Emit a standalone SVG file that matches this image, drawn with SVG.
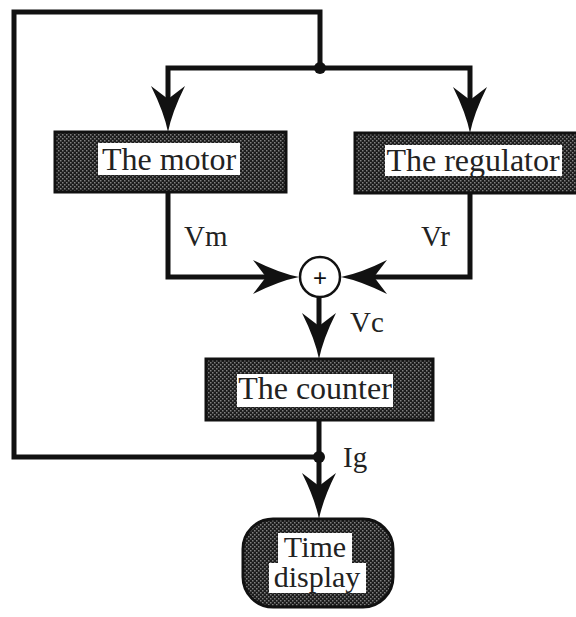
<svg xmlns="http://www.w3.org/2000/svg" width="576" height="617" viewBox="0 0 576 617">
<style>
.wire{fill:none;stroke:#111;stroke-width:5;stroke-linejoin:miter}
.box{fill:url(#dots);stroke:#111;stroke-width:3}
.bg{fill:#fff}
.lbl{font-family:"Liberation Serif","Times New Roman",serif;font-size:32px;fill:#222;text-anchor:middle}
.sig{font-family:"Liberation Serif","Times New Roman",serif;font-size:29px;fill:#222}
</style>
<defs>
<pattern id="dots" width="4" height="4" patternUnits="userSpaceOnUse">
<rect width="4" height="4" fill="#1c1c1c"/>
<rect x="0" y="0" width="1.5" height="1.5" fill="#808080"/>
<rect x="2" y="2" width="1.5" height="1.5" fill="#808080"/>
</pattern>
<marker id="arr" markerUnits="userSpaceOnUse" orient="auto" viewBox="-50 -19 52 38" markerWidth="52" markerHeight="38" refX="-20" refY="0">
<path d="M0,0 Q-20,-4 -46,-17 L-33,0 L-46,17 Q-20,4 0,0 Z" fill="#111"/>
</marker>
</defs>
<g id="connectors">
<path class="wire" d="M319,457 H14 V12 H320 V68"/>
<path class="wire" d="M320,68 H168 V112" marker-end="url(#arr)"/>
<path class="wire" d="M320,68 H470 V113" marker-end="url(#arr)"/>
<path class="wire" d="M168,192 V277 H279" marker-end="url(#arr)"/>
<path class="wire" d="M470,193 V277 H361" marker-end="url(#arr)"/>
<path class="wire" d="M319,297 V339" marker-end="url(#arr)"/>
<path class="wire" d="M319,420 V499" marker-end="url(#arr)"/>
<circle cx="320" cy="68" r="6" fill="#111"/>
<circle cx="319" cy="457" r="6" fill="#111"/>
<text class="sig" x="184" y="246">Vm</text>
<text class="sig" x="421" y="246">Vr</text>
<text class="sig" x="350" y="332">Vc</text>
<text class="sig" x="343" y="467">Ig</text>
</g>
<g id="motor">
<rect class="box" x="55" y="132" width="231" height="60"/>
<rect class="bg" x="98" y="143" width="142" height="32"/>
<text class="lbl" x="169" y="170">The motor</text>
</g>
<g id="regulator">
<rect class="box" x="355" y="133" width="226" height="60"/>
<rect class="bg" x="385" y="145" width="177" height="31"/>
<text class="lbl" x="473" y="171">The regulator</text>
</g>
<g id="sum">
<circle cx="320" cy="277" r="20" fill="#fff" stroke="#111" stroke-width="2.5"/>
<text x="320" y="286" font-family="Liberation Sans, Arial, sans-serif" font-size="24" text-anchor="middle" fill="#111">+</text>
</g>
<g id="counter">
<rect class="box" x="206" y="359" width="227" height="61"/>
<rect class="bg" x="237" y="374" width="156" height="33"/>
<text class="lbl" x="315" y="399">The counter</text>
</g>
<g id="display">
<rect class="box" x="243" y="519" width="150" height="88" rx="30" ry="30"/>
<rect class="bg" x="278" y="533" width="74" height="30"/>
<rect class="bg" x="269" y="563" width="97" height="30"/>
<text class="lbl" x="315" y="557" style="font-size:30px">Time</text>
<text class="lbl" x="317" y="587" style="font-size:30px">display</text>
</g>
</svg>
